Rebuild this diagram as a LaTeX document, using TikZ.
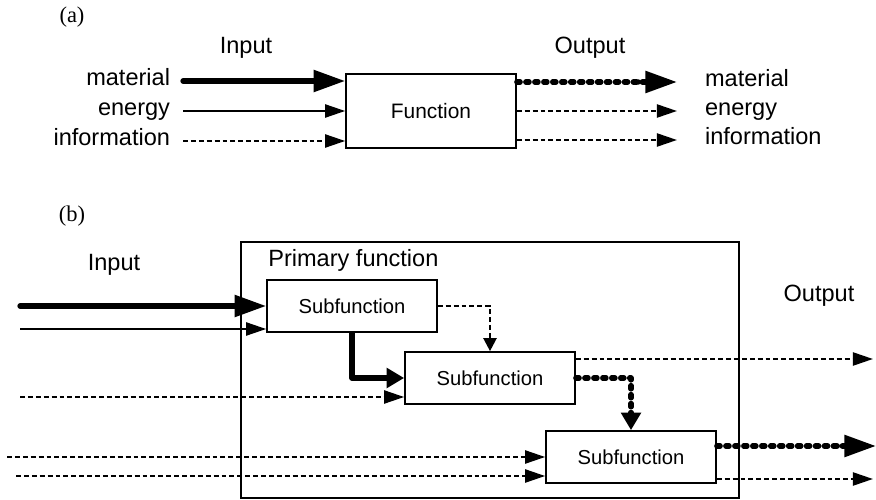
\documentclass[tikz,border=0pt]{standalone}
\usepackage{fontspec}
\setmainfont{Liberation Serif}
\setsansfont{Liberation Sans}
\usetikzlibrary{arrows.meta, positioning, calc}

\begin{document}
\begin{tikzpicture}[x=0.02cm, y=-0.02cm,
    lbl/.style={font=\sffamily\fontsize{13.4}{16}\selectfont, inner sep=0pt},
    fbox/.style={draw, line width=0.95pt, fill=white, font=\sffamily\fontsize{11.5}{14}\selectfont,
        minimum width=3.4cm, minimum height=1.04cm, inner sep=0pt},
    matflow/.style={line width=3pt, line cap=round, line join=round,
        -{Triangle[length=18pt, width=12pt]}},
    matturn/.style={line width=3pt, line join=round,
        -{Triangle[length=10pt, width=11pt]}},
    matdot/.style={line width=3pt, line cap=round, line join=round, dash pattern=on 1.9pt off 3.2pt},
    enflow/.style={line width=1.25pt, -{Triangle[length=11.4pt, width=7.4pt]}},
    infoflow/.style={line width=1.25pt, dash pattern=on 2.8pt off 1.7pt,
        -{Triangle[length=11.4pt, width=7.4pt]}}
]
    \useasboundingbox (0,0) rectangle (876,500);

    % (a) single function
    \node[font=\fontsize{12.8}{15}\selectfont] (capa) at (72,17) {(a)};
    \node[lbl] (inlbl) at (246,48) {Input};
    \node[lbl] (outlbl) at (590,48) {Output};

    \node[fbox, minimum height=1.48cm, font=\sffamily\fontsize{11.9}{14}\selectfont] (func) at (431,111) {Function};

    \node[lbl, anchor=mid east, outer xsep=7.4pt] (inmat) at (183,81) {material};
    \node[lbl, anchor=mid east, outer xsep=7.4pt] (inen) at (183,111) {energy};
    \node[lbl, anchor=mid east, outer xsep=7.4pt] (ininfo) at (183,141) {information};

    \node[lbl, anchor=mid west, outer xsep=16pt] (outmat) at (677,82) {material};
    \node[lbl, anchor=mid west, outer xsep=16pt] (outen) at (677,111) {energy};
    \node[lbl, anchor=mid west, outer xsep=16pt] (outinfo) at (677,140) {information};

    \draw[matflow] (inmat.mid east) -- (func.west |- inmat.mid east);
    \draw[enflow] (inen.mid east) -- (func.west |- inen.mid east);
    \draw[infoflow] (ininfo.mid east) -- (func.west |- ininfo.mid east);

    \draw[matdot] (func.east |- outmat.mid west) -- ([xshift=-16pt]outmat.mid west);
    \draw[matflow, dash pattern=on 0pt off 100pt] ([xshift=-22pt]outmat.mid west) -- (outmat.mid west);
    \draw[infoflow] (func.east |- outen.mid west) -- (outen.mid west);
    \draw[infoflow] (func.east |- outinfo.mid west) -- (outinfo.mid west);

    % (b) primary function split into subfunctions
    \node[font=\fontsize{12.8}{15}\selectfont] (capb) at (72,216) {(b)};
    \node[lbl] (inlblb) at (114,265) {Input};
    \node[lbl] (outlblb) at (819,296) {Output};

    \node[draw, line width=0.8pt, minimum width=9.96cm, minimum height=5.12cm] (prim) at (490,370) {};
    \node[lbl, anchor=mid west] (primlbl) at (268,262) {Primary function};

    \node[fbox] (sub1) at (352,306) {Subfunction};
    \node[fbox] (sub2) at (490,378) {Subfunction};
    \node[fbox] (sub3) at (631,457) {Subfunction};

    \coordinate (in1) at (20,306);
    \coordinate (in2) at (20,329);
    \coordinate (in3) at (20,397);
    \coordinate (in4) at (7,457);
    \coordinate (in5) at (16,476);
    \coordinate (out1) at (873,359);
    \coordinate (out2) at (876,446);
    \coordinate (out3) at (873,479);

    % inputs
    \draw[matflow] (in1) -- (sub1.west);
    \draw[enflow] (in2) -- (sub1.west |- in2);
    \draw[infoflow] (in3) -- (sub2.west |- in3);
    \draw[infoflow] (in4) -- (sub3.west);
    \draw[infoflow] (in5) -- (sub3.west |- in5);

    % between subfunctions
    \draw[infoflow, -{Triangle[length=7.4pt, width=7.4pt]}] (sub1.east) -| (sub2.north);
    \draw[matturn] (sub1.south) |- (sub2.west);
    \draw[matdot] (sub2.east) -| ([yshift=10pt]sub3.north);
    \draw[matturn, dash pattern=on 0pt off 100pt] ([yshift=10pt]sub3.north) -- (sub3.north);

    % outputs
    \draw[infoflow] (sub2.east |- out1) -- (out1);
    \draw[matdot] (sub3.east |- out2) -- ([xshift=-17pt]out2);
    \draw[matflow, dash pattern=on 0pt off 100pt] ([xshift=-22pt]out2) -- (out2);
    \draw[infoflow] (sub3.east |- out3) -- (out3);
\end{tikzpicture}
\end{document}
